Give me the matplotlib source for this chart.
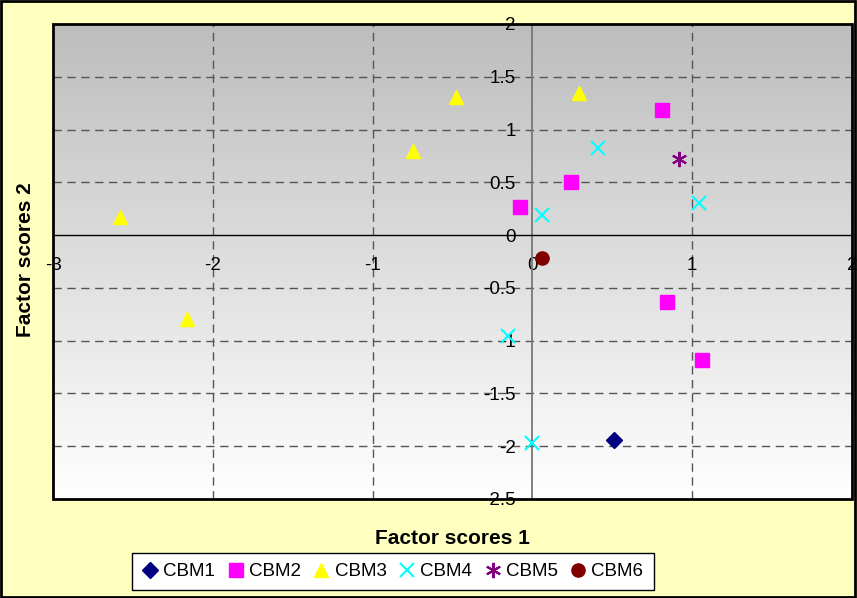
import numpy as np
import matplotlib
matplotlib.use("Agg")
import matplotlib.pyplot as plt
from matplotlib.patches import Rectangle
from matplotlib.colors import LinearSegmentedColormap

plt.rcParams['font.family'] = ['Liberation Sans', 'DejaVu Sans']

series_names = ["CBM1", "CBM2", "CBM3", "CBM4", "CBM5", "CBM6"]
cbm1_x = [0.51]
cbm1_y = [-1.94]
cbm2_x = [-0.08, 0.24, 0.81, 0.84, 1.06]
cbm2_y = [0.27, 0.50, 1.19, -0.63, -1.18]
cbm3_x = [-2.58, -0.75, -0.48, 0.29, -2.16]
cbm3_y = [0.17, 0.80, 1.31, 1.35, -0.79]
cbm4_x = [0.06, 0.41, 1.04, -0.15, 0.00]
cbm4_y = [0.19, 0.83, 0.30, -0.96, -1.97]
cbm5_x = [0.92]
cbm5_y = [0.72]
cbm6_x = [0.06]
cbm6_y = [-0.22]

x_ticks = [-3, -2, -1, 0, 1, 2]
y_ticks = [-2.5, -2, -1.5, -1, -0.5, 0, 0.5, 1, 1.5, 2]

fig = plt.figure(figsize=(8.57, 5.98), dpi=100)
fig.patch.set_facecolor('#FFFFC0')
fig.patches.append(Rectangle((0.001, 0.001), 0.997, 0.997, transform=fig.transFigure,
                             fill=False, edgecolor='black', linewidth=2.0))

ax = fig.add_axes([53/857, 1 - 499/598, 799/857, 475/598])
ax.set_xlim(-3, 2)
ax.set_ylim(-2.5, 2)

# gradient background
grad = np.linspace(0, 1, 256).reshape(-1, 1)
cmap = LinearSegmentedColormap.from_list('g', ['#FFFFFF', '#BDBDBD'])
ax.imshow(grad, extent=[0, 1, 0, 1], transform=ax.transAxes, cmap=cmap,
          aspect='auto', origin='lower', zorder=0)

# grid
for xv in x_ticks:
    if xv not in (-3, 0, 2):
        ax.axvline(xv, color='#555555', linestyle=(0, (6, 4)), linewidth=1.0, zorder=1)
for yv in y_ticks:
    if yv not in (-2.5, 0, 2):
        ax.axhline(yv, color='#555555', linestyle=(0, (6, 4)), linewidth=1.0, zorder=1)

for s in ['top', 'right']:
    ax.spines[s].set_visible(False)
ax.spines['left'].set_position(('data', 0))
ax.spines['bottom'].set_position(('data', 0))
ax.spines['left'].set_color('#777777')
ax.spines['left'].set_linewidth(1.3)
ax.spines['bottom'].set_color('black')
ax.spines['bottom'].set_linewidth(1.0)
ax.spines['left'].set_zorder(2)
ax.spines['bottom'].set_zorder(2)

ax.set_xticks(x_ticks)
ax.set_xticklabels([str(v) for v in x_ticks])
ax.set_yticks(y_ticks)
ax.set_yticklabels([f"{v:g}" for v in y_ticks])
ax.tick_params(axis='x', length=0, pad=16, labelsize=13.5)
ax.tick_params(axis='y', length=0, pad=12, labelsize=13.5)

# outer border of plot area
ax.add_patch(Rectangle((0, 0), 1, 1, transform=ax.transAxes, fill=False,
                       edgecolor='black', linewidth=2.0, zorder=5, clip_on=False))

ax.plot(cbm1_x, cbm1_y, linestyle='none', marker='D', markersize=8, color='#000080', label='CBM1', zorder=4)
ax.plot(cbm2_x, cbm2_y, linestyle='none', marker='s', markersize=9.5, color='#FF00FF', label='CBM2', zorder=4)
ax.plot(cbm3_x, cbm3_y, linestyle='none', marker='^', markersize=10, color='#FFFF00', label='CBM3', zorder=4)
ax.plot(cbm4_x, cbm4_y, linestyle='none', marker='x', markersize=10, markeredgewidth=1.5, color='#00FFFF', label='CBM4', zorder=4)
ax.plot(cbm5_x, cbm5_y, linestyle='none', marker=(6, 2, 0), markersize=11, markeredgewidth=1.5, color='#800080', label='CBM5', zorder=4)
ax.plot(cbm6_x, cbm6_y, linestyle='none', marker='o', markersize=9.5, color='#800000', label='CBM6', zorder=4)

fig.text(452/857, 1 - 538/598, 'Factor scores 1', ha='center', va='center',
         fontsize=15, fontweight='bold')
fig.text(26/857, 1 - 260/598, 'Factor scores 2', ha='center', va='center',
         rotation=90, fontsize=15, fontweight='bold')

leg = fig.legend(loc='center', bbox_to_anchor=(393/857, 1 - 571.5/598), ncol=6,
                 fontsize=13.5, frameon=True, fancybox=False, handlelength=0.8,
                 handletextpad=0.3, columnspacing=0.7, borderpad=0.55,
                 edgecolor='black', facecolor='white', framealpha=1.0)
leg.get_frame().set_linewidth(1.0)

fig.savefig('out.png', dpi=100, facecolor=fig.get_facecolor())
